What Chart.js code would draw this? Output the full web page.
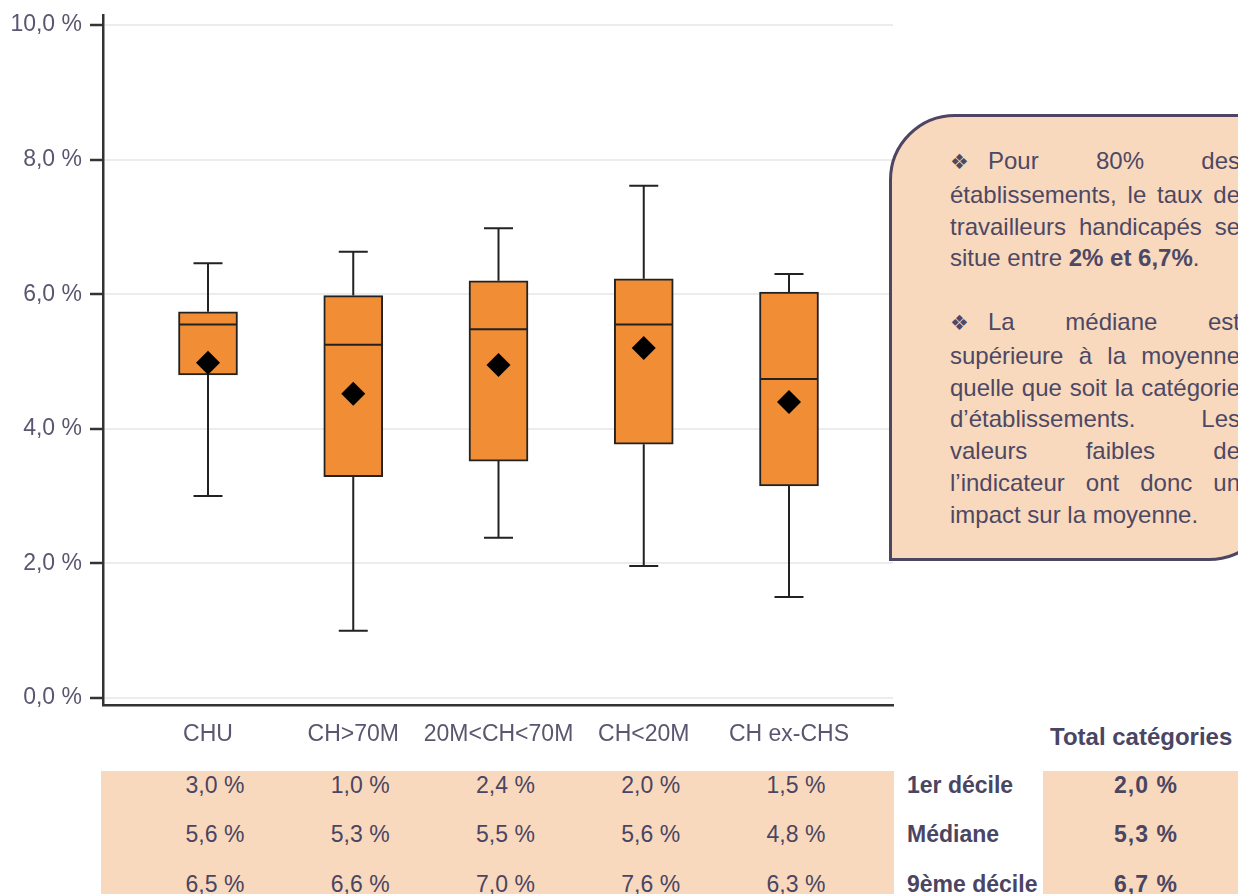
<!DOCTYPE html>
<html>
<head>
<meta charset="utf-8">
<script src="https://cdn.jsdelivr.net/npm/chart.js@4.4.1/dist/chart.umd.min.js"></script>
<style>
html,body{margin:0;padding:0;background:#fff;overflow:hidden;width:1238px;height:894px;}
body{position:relative;font-family:"Liberation Sans",Arial,sans-serif;color:#4e4966;}
#wrap{position:absolute;left:0;top:0;width:905px;height:760px;}
.callout{position:absolute;left:889px;top:114px;width:386px;height:447px;box-sizing:border-box;border:3px solid #4d4563;background:#f9d9bd;border-radius:66px 0 66px 0;}
.ctext{position:absolute;left:950px;top:145px;width:290px;font-size:24px;line-height:31.8px;color:#4d4864;}
.ctext div{white-space:nowrap;}
.ctext .j{text-align:justify;text-align-last:justify;white-space:normal;}
.bul{display:inline-block;width:38px;font-family:"DejaVu Sans",sans-serif;font-size:21px;text-align:left;}
.peach{position:absolute;background:#f9d9bd;}
.cell{position:absolute;font-size:23px;line-height:30px;height:30px;white-space:nowrap;color:#4a4562;}
.bold{font-weight:bold;}
</style>
</head>
<body>
<div id="wrap"><canvas id="c" width="905" height="760"></canvas></div>

<div class="callout"></div>
<div class="ctext">
  <div class="j"><span class="bul">❖</span>Pour 80% des</div>
  <div class="j">établissements, le taux de</div>
  <div class="j">travailleurs handicapés se</div>
  <div>situe entre <b>2% et 6,7%</b>.</div>
  <div>&nbsp;</div>
  <div class="j"><span class="bul">❖</span>La médiane est</div>
  <div class="j">supérieure à la moyenne</div>
  <div class="j">quelle que soit la catégorie</div>
  <div class="j">d’établissements. Les</div>
  <div class="j">valeurs faibles de</div>
  <div class="j">l’indicateur ont donc un</div>
  <div>impact sur la moyenne.</div>
</div>

<div id="table"></div>

<script>
// ---- data ----
const categories = ['CHU', 'CH>70M', '20M<CH<70M', 'CH<20M', 'CH ex-CHS'];
const decile1  = [3.00, 1.00, 2.38, 1.96, 1.50];
const quartile1 = [4.80, 3.29, 3.52, 3.77, 3.15];
const medians  = [5.55, 5.25, 5.48, 5.55, 4.74];
const quartile3 = [5.74, 5.98, 6.20, 6.23, 6.03];
const decile9  = [6.46, 6.63, 6.98, 7.61, 6.30];
const means    = [4.98, 4.52, 4.95, 5.20, 4.40];
const yTicks   = [0, 2, 4, 6, 8, 10];

// table values
const tableDecile1 = [3.0, 1.0, 2.4, 2.0, 1.5];
const tableMedian  = [5.6, 5.3, 5.5, 5.6, 4.8];
const tableDecile9 = [6.5, 6.6, 7.0, 7.6, 6.3];
const rowLabels    = ['1er décile', 'Médiane', '9ème décile'];
const totalTitle   = 'Total catégories';
const totalValues  = [2.0, 5.3, 6.7];

const fmt = v => v.toFixed(1).replace('.', ',') + ' %';
const axisColor = '#5b566f';
const lineColor = '#222';

const boxPlugin = {
  id: 'boxplot',
  beforeDatasetsDraw(chart) {
    const {ctx, scales: {x, y}} = chart;
    ctx.save();
    ctx.strokeStyle = lineColor;
    ctx.lineWidth = 2;
    categories.forEach((c, i) => {
      const px = x.getPixelForValue(i);
      const cap = 14.5;
      ctx.beginPath();
      ctx.moveTo(px, y.getPixelForValue(quartile3[i]));
      ctx.lineTo(px, y.getPixelForValue(decile9[i]));
      ctx.moveTo(px - cap, y.getPixelForValue(decile9[i]));
      ctx.lineTo(px + cap, y.getPixelForValue(decile9[i]));
      ctx.moveTo(px, y.getPixelForValue(quartile1[i]));
      ctx.lineTo(px, y.getPixelForValue(decile1[i]));
      ctx.moveTo(px - cap, y.getPixelForValue(decile1[i]));
      ctx.lineTo(px + cap, y.getPixelForValue(decile1[i]));
      ctx.stroke();
    });
    ctx.restore();
  },
  afterDatasetDraw(chart, args) {
    if (args.index !== 0) return;
    const {ctx, scales: {x, y}} = chart;
    ctx.save();
    ctx.strokeStyle = lineColor;
    ctx.lineWidth = 2;
    categories.forEach((c, i) => {
      const px = x.getPixelForValue(i);
      const py = y.getPixelForValue(medians[i]);
      ctx.beginPath();
      ctx.moveTo(px - 29, py);
      ctx.lineTo(px + 29, py);
      ctx.stroke();
    });
    ctx.restore();
  }
};

const chart = new Chart(document.getElementById('c'), {
  data: {
    datasets: [
      {
        type: 'bar',
        data: categories.map((c, i) => ({x: i, y: [quartile1[i], quartile3[i]]})),
        backgroundColor: '#f08d35',
        borderColor: lineColor,
        borderWidth: 2,
        borderSkipped: false,
        barThickness: 59,
        order: 2
      },
      {
        type: 'scatter',
        data: categories.map((c, i) => ({x: i, y: means[i]})),
        pointStyle: 'rectRot',
        pointRadius: 12,
        backgroundColor: '#000',
        borderWidth: 0,
        order: 0
      }
    ]
  },
  options: {
    responsive: false,
    devicePixelRatio: 1,
    animation: false,
    events: [],
    layout: {padding: {top: 15, right: 2, left: 0, bottom: 0}},
    plugins: {legend: {display: false}, tooltip: {enabled: false}},
    scales: {
      x: {
        type: 'linear',
        min: -0.7229,
        max: 4.716,
        offset: false,
        afterBuildTicks: s => { s.ticks = categories.map((c, i) => ({value: i})); },
        afterFit: s => { s.height = 55; s.paddingLeft = 0; s.paddingRight = 0; },
        ticks: {
          autoSkip: false, maxRotation: 0, padding: 16,
          color: axisColor,
          font: {family: 'Liberation Sans', size: 23},
          callback: v => categories[v]
        },
        grid: {display: true, drawOnChartArea: false, drawTicks: false},
        border: {display: true, color: '#333', width: 2.5}
      },
      y: {
        type: 'linear',
        min: -0.104,
        max: 10.149,
        afterBuildTicks: s => { s.ticks = yTicks.map(v => ({value: v})); },
        afterFit: s => { s.width = 103; s.paddingTop = 0; s.paddingBottom = 0; },
        ticks: {
          padding: 8,
          color: axisColor,
          font: {family: 'Liberation Sans', size: 23},
          callback: v => fmt(v)
        },
        grid: {color: '#ececec', lineWidth: 2, tickColor: '#333', tickWidth: 2.5, tickLength: 13},
        border: {display: true, color: '#333', width: 2.5}
      }
    }
  },
  plugins: [boxPlugin]
});

// ---- table below the chart ----
const table = document.getElementById('table');
function add(cls, text, left, top, width, align) {
  const d = document.createElement('div');
  d.className = cls;
  d.textContent = text;
  d.style.left = left + 'px';
  d.style.top = top + 'px';
  if (width) { d.style.width = width + 'px'; d.style.textAlign = align || 'center'; }
  table.appendChild(d);
  return d;
}
const bg1 = add('peach', '', 101, 771); bg1.style.width = '793px'; bg1.style.height = '130px';
const bg2 = add('peach', '', 1043, 771); bg2.style.width = '200px'; bg2.style.height = '130px';

const rowsY = [785, 834, 884];
const rows = [tableDecile1, tableMedian, tableDecile9];
const xs = chart.scales.x;
rows.forEach((vals, r) => {
  vals.forEach((v, i) => {
    const cx = xs.getPixelForValue(i) + 7;
    add('cell', fmt(v), cx - 50, rowsY[r] - 15, 100, 'center');
  });
  add('cell bold', rowLabels[r], 907, rowsY[r] - 15);
  const t = add('cell bold', fmt(totalValues[r]), 1096, rowsY[r] - 15, 100, 'center');
  t.style.letterSpacing = '1px';
});
const tt = add('cell bold', totalTitle, 1050, 737 - 15);
tt.style.fontSize = '24px';
</script>
</body>
</html>
